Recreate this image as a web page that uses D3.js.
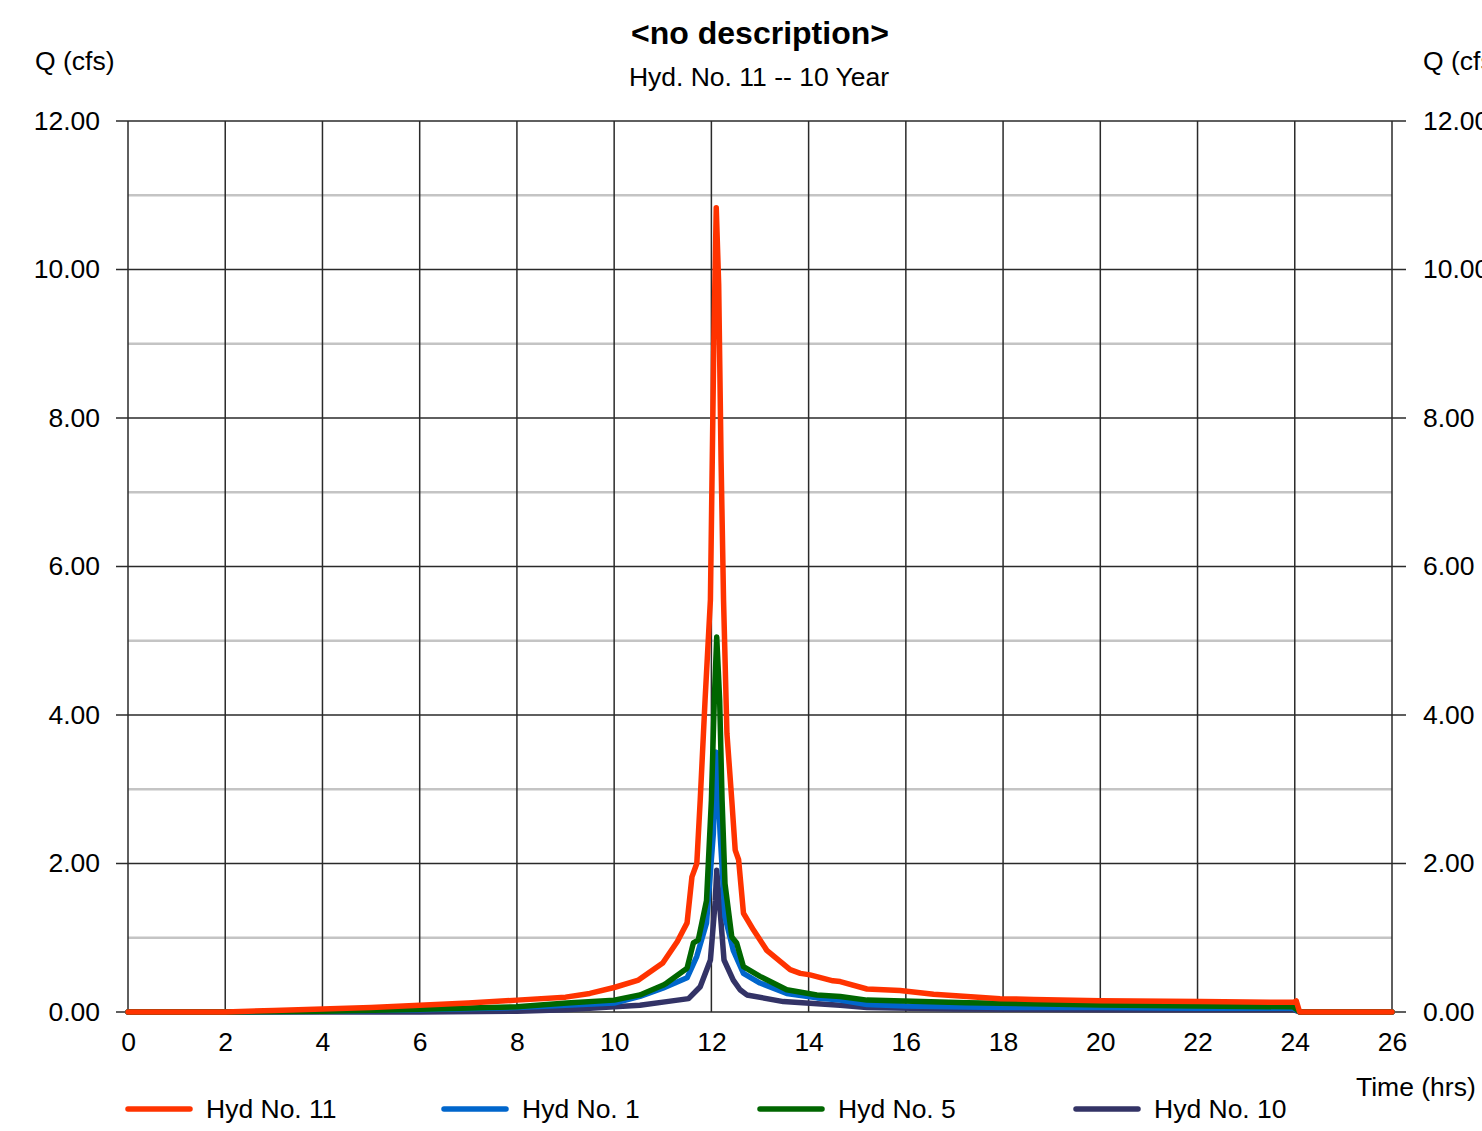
<!DOCTYPE html>
<html><head><meta charset="utf-8">
<script src="https://cdn.jsdelivr.net/npm/d3@7"></script>
<style>
html,body{margin:0;padding:0;background:#fff;overflow:hidden}
text{font-family:"Liberation Sans",Arial,sans-serif;fill:#000}
</style></head><body>
<svg id="c" width="1482" height="1131"></svg>
<script>
// ---- data ----
const xTicks = [0,2,4,6,8,10,12,14,16,18,20,22,24,26];
const yTicks = [0,2,4,6,8,10,12];
const yMinor = [1,3,5,7,9,11];
const seriesNames = ["Hyd No. 11","Hyd No. 1","Hyd No. 5","Hyd No. 10"];
const seriesColors = ["#ff3300","#0066cc","#006600","#333366"];

const hyd11T = [0,2,3,4,5,6,7,8,9,9.5,10,10.5,11,11.3,11.5,11.6,11.7,11.77,11.87,11.98,12.05,12.1,12.15,12.2,12.25,12.32,12.42,12.49,12.56,12.66,12.87,13.14,13.62,13.83,14.03,14.5,14.65,15.2,15.88,16.57,17.26,17.94,18.63,20,22.06,23.5,23.97,24.03,24.1,26];
const hyd11Q = [0,0,0.02,0.04,0.06,0.09,0.12,0.16,0.2,0.25,0.33,0.43,0.66,0.95,1.2,1.82,2.0,2.85,4.2,5.55,9.0,10.83,9.8,7.4,5.55,3.75,2.85,2.18,2.05,1.33,1.1,0.83,0.57,0.52,0.5,0.42,0.41,0.31,0.29,0.24,0.21,0.18,0.17,0.15,0.14,0.13,0.13,0.15,0,0];

const hyd1T = [0,2,4,6,8,9,10,10.53,11,11.5,11.7,11.9,12.04,12.1,12.18,12.28,12.45,12.66,13,13.55,14.17,14.65,15.2,16,18,20,22,23.97,24.1,26];
const hyd1Q = [0,0,0.01,0.03,0.06,0.09,0.12,0.21,0.32,0.46,0.75,1.2,2.4,3.5,2.4,1.28,0.83,0.52,0.39,0.25,0.19,0.16,0.1,0.08,0.06,0.06,0.05,0.05,0,0];

const hyd5T = [0,2,4,5.6,8,9.03,10,10.53,11,11.08,11.5,11.63,11.73,11.9,12.0,12.06,12.11,12.17,12.22,12.28,12.42,12.52,12.66,13,13.55,14.17,14.65,15.2,17.26,20,22,23.97,24.1,26];
const hyd5Q = [0,0,0.01,0.03,0.07,0.12,0.16,0.23,0.36,0.39,0.59,0.93,0.97,1.5,2.85,4.2,5.05,4.2,2.85,1.73,1.01,0.93,0.61,0.48,0.3,0.23,0.21,0.16,0.125,0.094,0.08,0.07,0,0];

const hyd10T = [0,6,8,9,10,10.53,11.08,11.53,11.77,11.98,12.08,12.11,12.19,12.26,12.45,12.59,12.73,13.48,14.65,15.2,17,20,23.97,24.1,26];
const hyd10Q = [0,0,0.01,0.03,0.07,0.09,0.14,0.18,0.34,0.7,1.5,1.91,1.28,0.7,0.43,0.3,0.23,0.14,0.09,0.06,0.04,0.03,0.03,0,0];

const seriesT = [hyd11T,hyd1T,hyd5T,hyd10T];
const seriesQ = [hyd11Q,hyd1Q,hyd5Q,hyd10Q];

// ---- layout ----
const svg = d3.select("#c");
const x = d3.scaleLinear().domain([0,26]).range([128,1392]);
const y = d3.scaleLinear().domain([0,12]).range([1012,121]);
const FS = 26.5;

const g = svg.append("g");
g.selectAll(".minor").data(yMinor).join("line")
  .attr("x1",x(0)).attr("x2",x(26)).attr("y1",d=>y(d)).attr("y2",d=>y(d))
  .attr("stroke","#c4c4c4").attr("stroke-width",2.5);
g.selectAll(".vg").data(xTicks).join("line")
  .attr("x1",d=>x(d)).attr("x2",d=>x(d)).attr("y1",y(12)).attr("y2",y(0))
  .attr("stroke","#2a2a2a").attr("stroke-width",1.5);
g.selectAll(".hg").data(yTicks).join("line")
  .attr("x1",x(0)-12).attr("x2",x(26)+14).attr("y1",d=>y(d)).attr("y2",d=>y(d))
  .attr("stroke","#2a2a2a").attr("stroke-width",1.5);

const fmt = d3.format(".2f");
const leftAx = d3.axisLeft(y).tickValues(yTicks).tickFormat(fmt).tickSize(0).tickPadding(0);
const la = svg.append("g").attr("transform",`translate(100,0)`).call(leftAx);
const rightAx = d3.axisRight(y).tickValues(yTicks).tickFormat(fmt).tickSize(0).tickPadding(0);
const ra = svg.append("g").attr("transform",`translate(1423,0)`).call(rightAx);
const botAx = d3.axisBottom(x).tickValues(xTicks).tickFormat(d3.format("d")).tickSize(0).tickPadding(0);
const ba = svg.append("g").attr("transform",`translate(0,1032)`).call(botAx);
[la,ra,ba].forEach(a=>{
  a.select(".domain").remove();
  a.selectAll("text").attr("font-size",FS).attr("font-family",'"Liberation Sans",Arial,sans-serif').attr("fill","#000");
});
ba.selectAll("text").attr("dy","0.71em");

const line = d3.line().x(d=>x(d[0])).y(d=>y(d[1]));
const order = [3,1,2,0];
order.forEach(i=>{
  const pts = seriesT[i].map((t,k)=>[t,seriesQ[i][k]]);
  svg.append("path").datum(pts).attr("d",line)
    .attr("fill","none").attr("stroke",seriesColors[i]).attr("stroke-width",5.5)
    .attr("stroke-linejoin","round").attr("stroke-linecap","round");
});

svg.append("text").attr("x",760).attr("y",44).attr("text-anchor","middle")
  .attr("font-size",32).attr("font-weight","bold").text("<no description>");
svg.append("text").attr("x",759).attr("y",86).attr("text-anchor","middle")
  .attr("font-size",FS).text("Hyd. No. 11 -- 10 Year");
svg.append("text").attr("x",35).attr("y",70).attr("font-size",FS).text("Q (cfs)");
svg.append("text").attr("x",1423).attr("y",70).attr("font-size",FS).text("Q (cfs)");
svg.append("text").attr("x",1356).attr("y",1096).attr("font-size",FS).text("Time (hrs)");

const leg = svg.append("g");
seriesNames.forEach((n,i)=>{
  const lx = 128 + i*316;
  leg.append("line").attr("x1",lx).attr("x2",lx+62).attr("y1",1109).attr("y2",1109)
    .attr("stroke",seriesColors[i]).attr("stroke-width",5.5).attr("stroke-linecap","round");
  leg.append("text").attr("x",lx+78).attr("y",1118).attr("font-size",FS).text(n);
});
</script></body></html>
